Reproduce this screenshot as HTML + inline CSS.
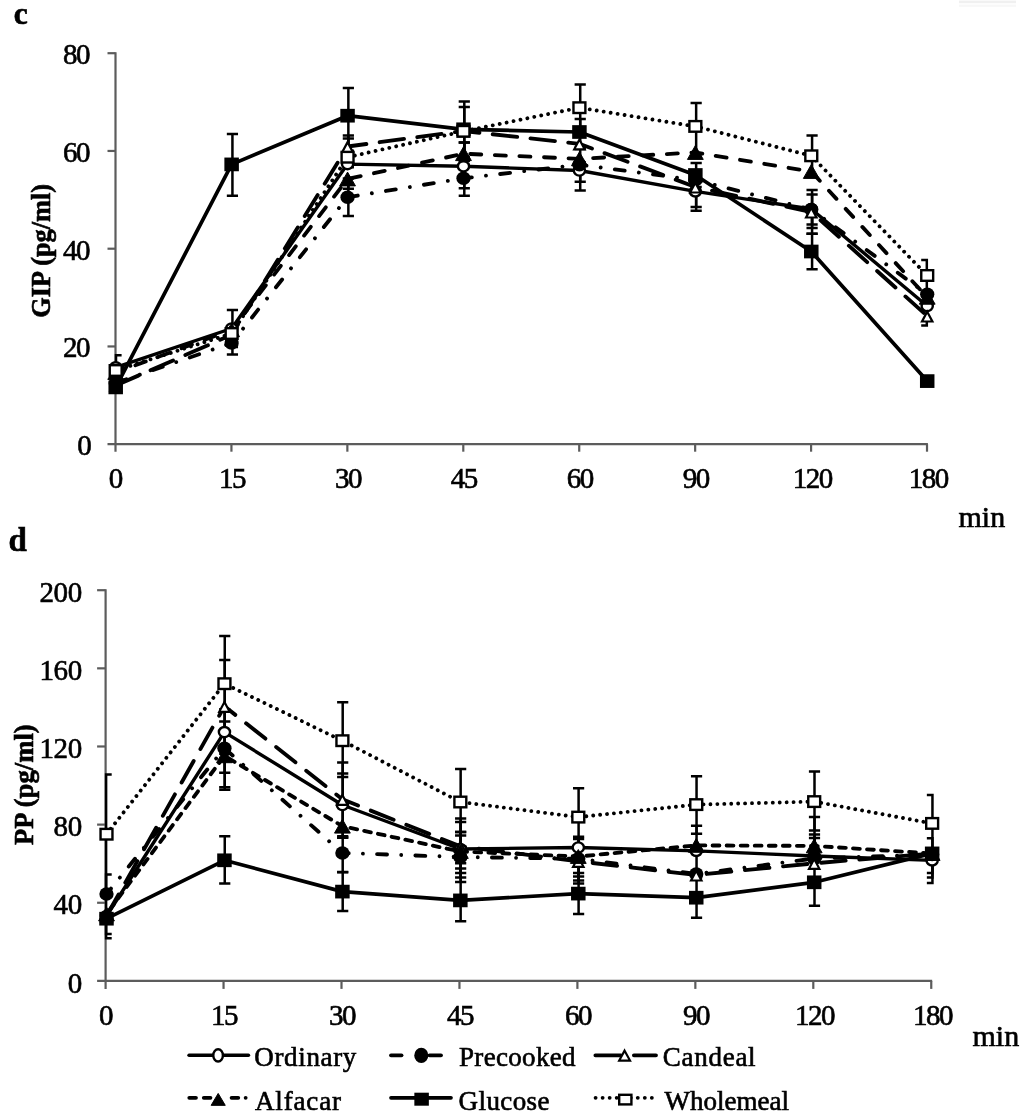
<!DOCTYPE html>
<html lang="en"><head><meta charset="utf-8"><title>GIP and PP responses</title>
<style>html,body{margin:0;padding:0;background:#fff}body{width:1024px;height:1120px;overflow:hidden}svg{display:block;filter:blur(0.45px)}text{font-family:"Liberation Serif",serif;fill:#000;stroke:#000;stroke-width:0.62px}</style></head><body>
<svg width="1024" height="1120" viewBox="0 0 1024 1120" role="img" aria-label="GIP and PP responses over time for six test meals">
<rect width="1024" height="1120" fill="#fff"/>
<rect x="959" y="0.6" width="57" height="2.6" fill="#f0f0f0"/><rect x="959" y="4.6" width="57" height="2.2" fill="#f7f7f7"/>
<g stroke="#5c5c5c" stroke-width="2.2" fill="none">
<path d="M115.5 52.30V451.7"/>
<path d="M107.5 444.2H927.91"/>
<path d="M107.5 346.45H115.5"/>
<path d="M107.5 248.70H115.5"/>
<path d="M107.5 150.95H115.5"/>
<path d="M107.5 53.20H115.5"/>
<path d="M231.43 444.2V451.7"/>
<path d="M347.36 444.2V451.7"/>
<path d="M463.29 444.2V451.7"/>
<path d="M579.22 444.2V451.7"/>
<path d="M695.15 444.2V451.7"/>
<path d="M811.08 444.2V451.7"/>
<path d="M927.01 444.2V451.7"/>
</g>
<text x="77.20" y="455.1" font-size="29">0</text>
<text x="63.10 76.10" y="357.3" font-size="29">20</text>
<text x="63.10 76.10" y="259.6" font-size="29">40</text>
<text x="63.10 76.10" y="161.8" font-size="29">60</text>
<text x="63.10 76.10" y="64.1" font-size="29">80</text>
<text x="108.85" y="487.9" font-size="29">0</text>
<text x="218.98 231.98" y="487.9" font-size="29">15</text>
<text x="334.91 347.91" y="487.9" font-size="29">30</text>
<text x="450.84 463.84" y="487.9" font-size="29">45</text>
<text x="566.77 579.77" y="487.9" font-size="29">60</text>
<text x="682.70 695.70" y="487.9" font-size="29">90</text>
<text x="792.83 805.83 818.83" y="487.9" font-size="29">120</text>
<text x="908.76 921.76 934.76" y="487.9" font-size="29">180</text>
<text x="958.5" y="526.5" font-size="30" text-anchor="start">min</text>
<text x="13.8" y="23.5" font-size="31.5" text-anchor="start" font-weight="bold">c</text>
<text x="50" y="250.8" font-size="26.3" text-anchor="middle" font-weight="bold" transform="rotate(-90 50 250.8)">GIP (pg/ml)</text>
<polyline points="115.70,367.30 231.63,328.50 347.56,164.10 463.49,166.30 579.42,170.50 695.35,191.40 811.28,209.00 927.21,306.00" fill="none" stroke="#000" stroke-width="3.4" stroke-linecap="round" stroke-linejoin="round"/>
<polyline points="115.70,383.00 231.63,343.00 347.56,197.20 463.49,178.30 579.42,164.70 695.35,180.00 811.28,209.50 927.21,294.30" fill="none" stroke="#000" stroke-width="3.85" stroke-linecap="round" stroke-linejoin="round" stroke-dasharray="9.95 14.27 0.01 14.27" stroke-dashoffset="-1.3"/>
<polyline points="115.70,385.50 231.63,334.80 347.56,146.50 463.49,131.00 579.42,143.80 695.35,187.00 811.28,212.00 927.21,316.00" fill="none" stroke="#000" stroke-width="3.85" stroke-linecap="round" stroke-linejoin="round" stroke-dasharray="24.65 13.35"/>
<polyline points="115.70,372.50 231.63,329.80 347.56,179.00 463.49,153.70 579.42,158.80 695.35,152.50 811.28,171.50 927.21,297.30" fill="none" stroke="#000" stroke-width="3.85" stroke-linecap="round" stroke-linejoin="round" stroke-dasharray="11 13.6" stroke-dashoffset="3.6"/>
<polyline points="115.70,387.40 231.63,164.40 347.56,115.70 463.49,129.30 579.42,132.00 695.35,175.00 811.28,251.50 927.21,381.10" fill="none" stroke="#000" stroke-width="3.7" stroke-linecap="round" stroke-linejoin="round"/>
<polyline points="115.70,370.50 231.63,333.50 347.56,157.20 463.49,131.30 579.42,107.70 695.35,126.40 811.28,155.80 927.21,275.50" fill="none" stroke="#000" stroke-width="3.85" stroke-linecap="round" stroke-linejoin="round" stroke-dasharray="0.01 7.05" stroke-dashoffset="-1.3"/>
<path d="M116.00 355.20V379.40M114.75 355.20H121.60M114.75 379.40H121.60" fill="none" stroke="#000" stroke-width="2.5"/>
<path d="M232.43 310.00V347.00M226.83 310.00H238.03M226.83 347.00H238.03" fill="none" stroke="#000" stroke-width="2.5"/>
<path d="M464.29 142.60V188.30M458.69 142.60H469.89M458.69 188.30H469.89" fill="none" stroke="#000" stroke-width="2.5"/>
<path d="M580.22 162.50V190.50M574.62 162.50H585.82M574.62 190.50H585.82" fill="none" stroke="#000" stroke-width="2.5"/>
<path d="M696.15 172.10V210.70M690.55 172.10H701.75M690.55 210.70H701.75" fill="none" stroke="#000" stroke-width="2.5"/>
<path d="M812.08 190.00V228.00M806.48 190.00H817.68M806.48 228.00H817.68" fill="none" stroke="#000" stroke-width="2.5"/>
<path d="M232.43 331.50V354.50M226.83 331.50H238.03M226.83 354.50H238.03" fill="none" stroke="#000" stroke-width="2.5"/>
<path d="M348.36 178.40V216.00M342.76 178.40H353.96M342.76 216.00H353.96" fill="none" stroke="#000" stroke-width="2.5"/>
<path d="M464.29 160.90V195.70M458.69 160.90H469.89M458.69 195.70H469.89" fill="none" stroke="#000" stroke-width="2.5"/>
<path d="M580.22 147.60V181.80M574.62 147.60H585.82M574.62 181.80H585.82" fill="none" stroke="#000" stroke-width="2.5"/>
<path d="M812.08 194.50V224.50M806.48 194.50H817.68M806.48 224.50H817.68" fill="none" stroke="#000" stroke-width="2.5"/>
<path d="M348.36 135.50V157.50M342.76 135.50H353.96M342.76 157.50H353.96" fill="none" stroke="#000" stroke-width="2.5"/>
<path d="M464.29 101.40V160.60M458.69 101.40H469.89M458.69 160.60H469.89" fill="none" stroke="#000" stroke-width="2.5"/>
<path d="M696.15 172.00V207.00M690.55 172.00H701.75M690.55 207.00H701.75" fill="none" stroke="#000" stroke-width="2.5"/>
<path d="M812.08 212.00V233.80M806.48 233.80H817.68" fill="none" stroke="#000" stroke-width="2.5"/>
<path d="M926.81 310.00V325.60M921.21 310.00H928.06M921.21 325.60H928.06" fill="none" stroke="#000" stroke-width="2.5"/>
<path d="M348.36 179.00V188.80M342.76 188.80H353.96" fill="none" stroke="#000" stroke-width="2.5"/>
<path d="M464.29 142.60V164.80M458.69 142.60H469.89M458.69 164.80H469.89" fill="none" stroke="#000" stroke-width="2.5"/>
<path d="M232.43 133.90V195.70M226.83 133.90H238.03M226.83 195.70H238.03" fill="none" stroke="#000" stroke-width="2.5"/>
<path d="M348.36 88.10V150.70M342.76 88.10H353.96M342.76 150.70H353.96" fill="none" stroke="#000" stroke-width="2.5"/>
<path d="M580.22 118.90V149.00M574.62 118.90H585.82M574.62 149.00H585.82" fill="none" stroke="#000" stroke-width="2.5"/>
<path d="M696.15 162.90V187.10M690.55 162.90H701.75M690.55 187.10H701.75" fill="none" stroke="#000" stroke-width="2.5"/>
<path d="M812.08 233.80V269.20M806.48 233.80H817.68M806.48 269.20H817.68" fill="none" stroke="#000" stroke-width="2.5"/>
<path d="M348.36 138.40V167.20M342.76 138.40H353.96M342.76 167.20H353.96" fill="none" stroke="#000" stroke-width="2.5"/>
<path d="M464.29 107.00V157.30M458.69 107.00H469.89M458.69 157.30H469.89" fill="none" stroke="#000" stroke-width="2.5"/>
<path d="M580.22 84.60V130.80M574.62 84.60H585.82M574.62 130.80H585.82" fill="none" stroke="#000" stroke-width="2.5"/>
<path d="M696.15 102.90V156.40M690.55 102.90H701.75M690.55 156.40H701.75" fill="none" stroke="#000" stroke-width="2.5"/>
<path d="M812.08 135.40V176.20M806.48 135.40H817.68M806.48 176.20H817.68" fill="none" stroke="#000" stroke-width="2.5"/>
<path d="M926.81 260.10V290.90M921.21 260.10H928.06M921.21 290.90H928.06" fill="none" stroke="#000" stroke-width="2.5"/>
<ellipse cx="115.70" cy="367.30" rx="5.60" ry="5.10" fill="#fff" stroke="#000" stroke-width="2.4"/>
<ellipse cx="231.63" cy="328.50" rx="5.60" ry="5.10" fill="#fff" stroke="#000" stroke-width="2.4"/>
<ellipse cx="347.56" cy="164.10" rx="5.60" ry="5.10" fill="#fff" stroke="#000" stroke-width="2.4"/>
<ellipse cx="463.49" cy="166.30" rx="5.60" ry="5.10" fill="#fff" stroke="#000" stroke-width="2.4"/>
<ellipse cx="579.42" cy="170.50" rx="5.60" ry="5.10" fill="#fff" stroke="#000" stroke-width="2.4"/>
<ellipse cx="695.35" cy="191.40" rx="5.60" ry="5.10" fill="#fff" stroke="#000" stroke-width="2.4"/>
<ellipse cx="811.28" cy="209.00" rx="5.60" ry="5.10" fill="#fff" stroke="#000" stroke-width="2.4"/>
<ellipse cx="927.21" cy="306.00" rx="5.60" ry="5.10" fill="#fff" stroke="#000" stroke-width="2.4"/>
<ellipse cx="115.70" cy="383.00" rx="7.15" ry="6.75" fill="#000"/>
<ellipse cx="231.63" cy="343.00" rx="7.15" ry="6.75" fill="#000"/>
<ellipse cx="347.56" cy="197.20" rx="7.15" ry="6.75" fill="#000"/>
<ellipse cx="463.49" cy="178.30" rx="7.15" ry="6.75" fill="#000"/>
<ellipse cx="579.42" cy="164.70" rx="7.15" ry="6.75" fill="#000"/>
<ellipse cx="695.35" cy="180.00" rx="7.15" ry="6.75" fill="#000"/>
<ellipse cx="811.28" cy="209.50" rx="7.15" ry="6.75" fill="#000"/>
<ellipse cx="927.21" cy="294.30" rx="7.15" ry="6.75" fill="#000"/>
<polygon points="115.70,381.21 120.91,391.00 110.49,391.00" fill="#fff" stroke="#000" stroke-width="2.2" stroke-linejoin="miter"/>
<polygon points="231.63,330.51 236.84,340.30 226.42,340.30" fill="#fff" stroke="#000" stroke-width="2.2" stroke-linejoin="miter"/>
<polygon points="347.56,142.21 352.77,152.00 342.35,152.00" fill="#fff" stroke="#000" stroke-width="2.2" stroke-linejoin="miter"/>
<polygon points="463.49,126.71 468.70,136.50 458.28,136.50" fill="#fff" stroke="#000" stroke-width="2.2" stroke-linejoin="miter"/>
<polygon points="579.42,139.51 584.63,149.30 574.21,149.30" fill="#fff" stroke="#000" stroke-width="2.2" stroke-linejoin="miter"/>
<polygon points="695.35,182.71 700.56,192.50 690.14,192.50" fill="#fff" stroke="#000" stroke-width="2.2" stroke-linejoin="miter"/>
<polygon points="811.28,207.71 816.49,217.50 806.07,217.50" fill="#fff" stroke="#000" stroke-width="2.2" stroke-linejoin="miter"/>
<polygon points="927.21,311.71 932.42,321.50 922.00,321.50" fill="#fff" stroke="#000" stroke-width="2.2" stroke-linejoin="miter"/>
<polygon points="115.70,365.60 123.60,379.40 107.80,379.40" fill="#000" stroke="#000" stroke-width="1" stroke-linejoin="miter"/>
<polygon points="231.63,322.90 239.53,336.70 223.73,336.70" fill="#000" stroke="#000" stroke-width="1" stroke-linejoin="miter"/>
<polygon points="347.56,172.10 355.46,185.90 339.66,185.90" fill="#000" stroke="#000" stroke-width="1" stroke-linejoin="miter"/>
<polygon points="463.49,146.80 471.39,160.60 455.59,160.60" fill="#000" stroke="#000" stroke-width="1" stroke-linejoin="miter"/>
<polygon points="579.42,151.90 587.32,165.70 571.52,165.70" fill="#000" stroke="#000" stroke-width="1" stroke-linejoin="miter"/>
<polygon points="695.35,145.60 703.25,159.40 687.45,159.40" fill="#000" stroke="#000" stroke-width="1" stroke-linejoin="miter"/>
<polygon points="811.28,164.60 819.18,178.40 803.38,178.40" fill="#000" stroke="#000" stroke-width="1" stroke-linejoin="miter"/>
<polygon points="927.21,290.40 935.11,304.20 919.31,304.20" fill="#000" stroke="#000" stroke-width="1" stroke-linejoin="miter"/>
<rect x="108.45" y="380.55" width="14.5" height="13.7" fill="#000"/>
<rect x="224.38" y="157.55" width="14.5" height="13.7" fill="#000"/>
<rect x="340.31" y="108.85" width="14.5" height="13.7" fill="#000"/>
<rect x="456.24" y="122.45" width="14.5" height="13.7" fill="#000"/>
<rect x="572.17" y="125.15" width="14.5" height="13.7" fill="#000"/>
<rect x="688.10" y="168.15" width="14.5" height="13.7" fill="#000"/>
<rect x="804.03" y="244.65" width="14.5" height="13.7" fill="#000"/>
<rect x="919.96" y="374.25" width="14.5" height="13.7" fill="#000"/>
<rect x="109.75" y="365.20" width="11.90" height="10.60" fill="#fff" stroke="#000" stroke-width="2.4"/>
<rect x="225.68" y="328.20" width="11.90" height="10.60" fill="#fff" stroke="#000" stroke-width="2.4"/>
<rect x="341.61" y="151.90" width="11.90" height="10.60" fill="#fff" stroke="#000" stroke-width="2.4"/>
<rect x="457.54" y="126.00" width="11.90" height="10.60" fill="#fff" stroke="#000" stroke-width="2.4"/>
<rect x="573.47" y="102.40" width="11.90" height="10.60" fill="#fff" stroke="#000" stroke-width="2.4"/>
<rect x="689.40" y="121.10" width="11.90" height="10.60" fill="#fff" stroke="#000" stroke-width="2.4"/>
<rect x="805.33" y="150.50" width="11.90" height="10.60" fill="#fff" stroke="#000" stroke-width="2.4"/>
<rect x="921.26" y="270.20" width="11.90" height="10.60" fill="#fff" stroke="#000" stroke-width="2.4"/>
<g stroke="#5c5c5c" stroke-width="2.2" fill="none">
<path d="M105.6 589.30V988.9"/>
<path d="M97.1 980.9H932.15"/>
<path d="M97.1 902.76H105.6"/>
<path d="M97.1 824.62H105.6"/>
<path d="M97.1 746.48H105.6"/>
<path d="M97.1 668.34H105.6"/>
<path d="M97.1 590.20H105.6"/>
<path d="M223.55 980.9V988.9"/>
<path d="M341.50 980.9V988.9"/>
<path d="M459.45 980.9V988.9"/>
<path d="M577.40 980.9V988.9"/>
<path d="M695.35 980.9V988.9"/>
<path d="M813.30 980.9V988.9"/>
<path d="M931.25 980.9V988.9"/>
</g>
<text x="67.80" y="992.5" font-size="29">0</text>
<text x="53.60 67.80" y="914.4" font-size="29">40</text>
<text x="53.60 67.80" y="836.2" font-size="29">80</text>
<text x="39.40 53.60 67.80" y="758.1" font-size="29">120</text>
<text x="39.40 53.60 67.80" y="679.9" font-size="29">160</text>
<text x="39.40 53.60 67.80" y="601.8" font-size="29">200</text>
<text x="98.95" y="1025.0" font-size="29">0</text>
<text x="211.10 224.10" y="1025.0" font-size="29">15</text>
<text x="329.05 342.05" y="1025.0" font-size="29">30</text>
<text x="447.00 460.00" y="1025.0" font-size="29">45</text>
<text x="564.95 577.95" y="1025.0" font-size="29">60</text>
<text x="682.90 695.90" y="1025.0" font-size="29">90</text>
<text x="795.05 808.05 821.05" y="1025.0" font-size="29">120</text>
<text x="913.00 926.00 939.00" y="1025.0" font-size="29">180</text>
<text x="972.5" y="1046" font-size="30" text-anchor="start">min</text>
<text x="8.6" y="551.3" font-size="33" text-anchor="start" font-weight="bold">d</text>
<text x="33" y="784.7" font-size="26.7" text-anchor="middle" font-weight="bold" transform="rotate(-90 33 784.7)">PP (pg/ml)</text>
<polyline points="106.50,916.00 224.45,732.10 342.40,805.00 460.35,849.00 578.30,847.50 696.25,850.90 814.20,856.00 932.15,860.40" fill="none" stroke="#000" stroke-width="3.4" stroke-linecap="round" stroke-linejoin="round"/>
<polyline points="106.50,894.10 224.45,748.20 342.40,853.00 460.35,857.00 578.30,858.70 696.25,874.00 814.20,858.50 932.15,854.50" fill="none" stroke="#000" stroke-width="3.85" stroke-linecap="round" stroke-linejoin="round" stroke-dasharray="9.95 14.17 0.01 14.17" stroke-dashoffset="2.9"/>
<polyline points="106.50,916.00 224.45,706.30 342.40,799.30 460.35,846.30 578.30,861.30 696.25,875.00 814.20,863.30 932.15,853.50" fill="none" stroke="#000" stroke-width="3.85" stroke-linecap="round" stroke-linejoin="round" stroke-dasharray="24.65 13.65"/>
<polyline points="106.50,914.00 224.45,755.80 342.40,826.20 460.35,851.50 578.30,856.50 696.25,845.40 814.20,845.90 932.15,853.50" fill="none" stroke="#000" stroke-width="3.85" stroke-linecap="round" stroke-linejoin="round" stroke-dasharray="6.8 7.25" stroke-dashoffset="-5.7"/>
<polyline points="106.50,918.70 224.45,860.30 342.40,891.60 460.35,900.40 578.30,893.60 696.25,897.70 814.20,882.30 932.15,853.40" fill="none" stroke="#000" stroke-width="3.7" stroke-linecap="round" stroke-linejoin="round"/>
<polyline points="106.50,834.20 224.45,683.70 342.40,740.70 460.35,802.00 578.30,817.10 696.25,804.60 814.20,801.60 932.15,823.40" fill="none" stroke="#000" stroke-width="3.85" stroke-linecap="round" stroke-linejoin="round" stroke-dasharray="0.01 6.92"/>
<path d="M106.10 916.00V934.00M104.85 934.00H111.70" fill="none" stroke="#000" stroke-width="2.5"/>
<path d="M224.75 732.10V772.80M219.15 772.80H230.35" fill="none" stroke="#000" stroke-width="2.5"/>
<path d="M342.70 773.40V837.80M337.10 773.40H348.30M337.10 837.80H348.30" fill="none" stroke="#000" stroke-width="2.5"/>
<path d="M460.65 822.10V877.50M455.05 822.10H466.25M455.05 877.50H466.25" fill="none" stroke="#000" stroke-width="2.5"/>
<path d="M578.60 836.70V847.50M573.00 836.70H584.20" fill="none" stroke="#000" stroke-width="2.5"/>
<path d="M696.55 825.70V874.90M690.95 825.70H702.15M690.95 874.90H702.15" fill="none" stroke="#000" stroke-width="2.5"/>
<path d="M814.50 834.40V856.00M808.90 834.40H820.10" fill="none" stroke="#000" stroke-width="2.5"/>
<path d="M932.45 860.40V873.00M926.85 873.00H933.70" fill="none" stroke="#000" stroke-width="2.5"/>
<path d="M106.10 874.60V913.60M104.85 874.60H111.70M104.85 913.60H111.70" fill="none" stroke="#000" stroke-width="2.5"/>
<path d="M224.75 709.20V787.20M219.15 709.20H230.35M219.15 787.20H230.35" fill="none" stroke="#000" stroke-width="2.5"/>
<path d="M342.70 836.20V872.00M337.10 836.20H348.30M337.10 872.00H348.30" fill="none" stroke="#000" stroke-width="2.5"/>
<path d="M460.65 832.00V882.00M455.05 832.00H466.25M455.05 882.00H466.25" fill="none" stroke="#000" stroke-width="2.5"/>
<path d="M578.60 858.70V880.40M573.00 880.40H584.20" fill="none" stroke="#000" stroke-width="2.5"/>
<path d="M932.45 854.50V877.50M926.85 877.50H933.70" fill="none" stroke="#000" stroke-width="2.5"/>
<path d="M224.75 659.90V753.80M219.15 659.90H230.35M219.15 753.80H230.35" fill="none" stroke="#000" stroke-width="2.5"/>
<path d="M342.70 762.60V837.50M337.10 762.60H348.30M337.10 837.50H348.30" fill="none" stroke="#000" stroke-width="2.5"/>
<path d="M460.65 818.60V873.00M455.05 818.60H466.25M455.05 873.00H466.25" fill="none" stroke="#000" stroke-width="2.5"/>
<path d="M578.60 861.30V883.60M573.00 883.60H584.20" fill="none" stroke="#000" stroke-width="2.5"/>
<path d="M814.50 837.90V863.30M808.90 837.90H820.10" fill="none" stroke="#000" stroke-width="2.5"/>
<path d="M932.45 853.50V882.90M926.85 882.90H933.70" fill="none" stroke="#000" stroke-width="2.5"/>
<path d="M224.75 721.40V789.80M219.15 721.40H230.35M219.15 789.80H230.35" fill="none" stroke="#000" stroke-width="2.5"/>
<path d="M460.65 832.00V863.20M455.05 832.00H466.25M455.05 863.20H466.25" fill="none" stroke="#000" stroke-width="2.5"/>
<path d="M578.60 839.00V876.60M573.00 839.00H584.20M573.00 876.60H584.20" fill="none" stroke="#000" stroke-width="2.5"/>
<path d="M814.50 817.00V845.90M808.90 817.00H820.10" fill="none" stroke="#000" stroke-width="2.5"/>
<path d="M106.10 918.70V938.30M104.85 938.30H111.70" fill="none" stroke="#000" stroke-width="2.5"/>
<path d="M224.75 836.20V883.50M219.15 836.20H230.35M219.15 883.50H230.35" fill="none" stroke="#000" stroke-width="2.5"/>
<path d="M342.70 872.20V911.00M337.10 872.20H348.30M337.10 911.00H348.30" fill="none" stroke="#000" stroke-width="2.5"/>
<path d="M460.65 868.60V921.30M455.05 868.60H466.25M455.05 921.30H466.25" fill="none" stroke="#000" stroke-width="2.5"/>
<path d="M578.60 873.10V914.10M573.00 873.10H584.20M573.00 914.10H584.20" fill="none" stroke="#000" stroke-width="2.5"/>
<path d="M696.55 877.70V917.70M690.95 877.70H702.15M690.95 917.70H702.15" fill="none" stroke="#000" stroke-width="2.5"/>
<path d="M814.50 858.90V905.70M808.90 858.90H820.10M808.90 905.70H820.10" fill="none" stroke="#000" stroke-width="2.5"/>
<path d="M932.45 838.20V853.40M926.85 838.20H933.70" fill="none" stroke="#000" stroke-width="2.5"/>
<path d="M106.10 774.40V894.00M104.85 774.40H111.70M104.85 894.00H111.70" fill="none" stroke="#000" stroke-width="2.5"/>
<path d="M224.75 636.10V731.30M219.15 636.10H230.35M219.15 731.30H230.35" fill="none" stroke="#000" stroke-width="2.5"/>
<path d="M342.70 702.30V777.10M337.10 702.30H348.30M337.10 777.10H348.30" fill="none" stroke="#000" stroke-width="2.5"/>
<path d="M460.65 768.90V835.50M455.05 768.90H466.25M455.05 835.50H466.25" fill="none" stroke="#000" stroke-width="2.5"/>
<path d="M578.60 788.20V846.00M573.00 788.20H584.20M573.00 846.00H584.20" fill="none" stroke="#000" stroke-width="2.5"/>
<path d="M696.55 776.30V833.80M690.95 776.30H702.15M690.95 833.80H702.15" fill="none" stroke="#000" stroke-width="2.5"/>
<path d="M814.50 771.60V830.60M808.90 771.60H820.10M808.90 830.60H820.10" fill="none" stroke="#000" stroke-width="2.5"/>
<path d="M932.45 795.00V851.80M926.85 795.00H933.70M926.85 851.80H933.70" fill="none" stroke="#000" stroke-width="2.5"/>
<ellipse cx="106.50" cy="916.00" rx="5.60" ry="5.10" fill="#fff" stroke="#000" stroke-width="2.4"/>
<ellipse cx="224.45" cy="732.10" rx="5.60" ry="5.10" fill="#fff" stroke="#000" stroke-width="2.4"/>
<ellipse cx="342.40" cy="805.00" rx="5.60" ry="5.10" fill="#fff" stroke="#000" stroke-width="2.4"/>
<ellipse cx="460.35" cy="849.00" rx="5.60" ry="5.10" fill="#fff" stroke="#000" stroke-width="2.4"/>
<ellipse cx="578.30" cy="847.50" rx="5.60" ry="5.10" fill="#fff" stroke="#000" stroke-width="2.4"/>
<ellipse cx="696.25" cy="850.90" rx="5.60" ry="5.10" fill="#fff" stroke="#000" stroke-width="2.4"/>
<ellipse cx="814.20" cy="856.00" rx="5.60" ry="5.10" fill="#fff" stroke="#000" stroke-width="2.4"/>
<ellipse cx="932.15" cy="860.40" rx="5.60" ry="5.10" fill="#fff" stroke="#000" stroke-width="2.4"/>
<ellipse cx="106.50" cy="894.10" rx="7.15" ry="6.75" fill="#000"/>
<ellipse cx="224.45" cy="748.20" rx="7.15" ry="6.75" fill="#000"/>
<ellipse cx="342.40" cy="853.00" rx="7.15" ry="6.75" fill="#000"/>
<ellipse cx="460.35" cy="857.00" rx="7.15" ry="6.75" fill="#000"/>
<ellipse cx="578.30" cy="858.70" rx="7.15" ry="6.75" fill="#000"/>
<ellipse cx="696.25" cy="874.00" rx="7.15" ry="6.75" fill="#000"/>
<ellipse cx="814.20" cy="858.50" rx="7.15" ry="6.75" fill="#000"/>
<ellipse cx="932.15" cy="854.50" rx="7.15" ry="6.75" fill="#000"/>
<polygon points="106.50,911.71 111.71,921.50 101.29,921.50" fill="#fff" stroke="#000" stroke-width="2.2" stroke-linejoin="miter"/>
<polygon points="224.45,702.01 229.66,711.80 219.24,711.80" fill="#fff" stroke="#000" stroke-width="2.2" stroke-linejoin="miter"/>
<polygon points="342.40,795.01 347.61,804.80 337.19,804.80" fill="#fff" stroke="#000" stroke-width="2.2" stroke-linejoin="miter"/>
<polygon points="460.35,842.01 465.56,851.80 455.14,851.80" fill="#fff" stroke="#000" stroke-width="2.2" stroke-linejoin="miter"/>
<polygon points="578.30,857.01 583.51,866.80 573.09,866.80" fill="#fff" stroke="#000" stroke-width="2.2" stroke-linejoin="miter"/>
<polygon points="696.25,870.71 701.46,880.50 691.04,880.50" fill="#fff" stroke="#000" stroke-width="2.2" stroke-linejoin="miter"/>
<polygon points="814.20,859.01 819.41,868.80 808.99,868.80" fill="#fff" stroke="#000" stroke-width="2.2" stroke-linejoin="miter"/>
<polygon points="932.15,849.21 937.36,859.00 926.94,859.00" fill="#fff" stroke="#000" stroke-width="2.2" stroke-linejoin="miter"/>
<polygon points="106.50,907.10 114.40,920.90 98.60,920.90" fill="#000" stroke="#000" stroke-width="1" stroke-linejoin="miter"/>
<polygon points="224.45,748.90 232.35,762.70 216.55,762.70" fill="#000" stroke="#000" stroke-width="1" stroke-linejoin="miter"/>
<polygon points="342.40,819.30 350.30,833.10 334.50,833.10" fill="#000" stroke="#000" stroke-width="1" stroke-linejoin="miter"/>
<polygon points="460.35,844.60 468.25,858.40 452.45,858.40" fill="#000" stroke="#000" stroke-width="1" stroke-linejoin="miter"/>
<polygon points="578.30,849.60 586.20,863.40 570.40,863.40" fill="#000" stroke="#000" stroke-width="1" stroke-linejoin="miter"/>
<polygon points="696.25,838.50 704.15,852.30 688.35,852.30" fill="#000" stroke="#000" stroke-width="1" stroke-linejoin="miter"/>
<polygon points="814.20,839.00 822.10,852.80 806.30,852.80" fill="#000" stroke="#000" stroke-width="1" stroke-linejoin="miter"/>
<polygon points="932.15,846.60 940.05,860.40 924.25,860.40" fill="#000" stroke="#000" stroke-width="1" stroke-linejoin="miter"/>
<rect x="99.25" y="911.85" width="14.5" height="13.7" fill="#000"/>
<rect x="217.20" y="853.45" width="14.5" height="13.7" fill="#000"/>
<rect x="335.15" y="884.75" width="14.5" height="13.7" fill="#000"/>
<rect x="453.10" y="893.55" width="14.5" height="13.7" fill="#000"/>
<rect x="571.05" y="886.75" width="14.5" height="13.7" fill="#000"/>
<rect x="689.00" y="890.85" width="14.5" height="13.7" fill="#000"/>
<rect x="806.95" y="875.45" width="14.5" height="13.7" fill="#000"/>
<rect x="924.90" y="846.55" width="14.5" height="13.7" fill="#000"/>
<rect x="100.55" y="828.90" width="11.90" height="10.60" fill="#fff" stroke="#000" stroke-width="2.4"/>
<rect x="218.50" y="678.40" width="11.90" height="10.60" fill="#fff" stroke="#000" stroke-width="2.4"/>
<rect x="336.45" y="735.40" width="11.90" height="10.60" fill="#fff" stroke="#000" stroke-width="2.4"/>
<rect x="454.40" y="796.70" width="11.90" height="10.60" fill="#fff" stroke="#000" stroke-width="2.4"/>
<rect x="572.35" y="811.80" width="11.90" height="10.60" fill="#fff" stroke="#000" stroke-width="2.4"/>
<rect x="690.30" y="799.30" width="11.90" height="10.60" fill="#fff" stroke="#000" stroke-width="2.4"/>
<rect x="808.25" y="796.30" width="11.90" height="10.60" fill="#fff" stroke="#000" stroke-width="2.4"/>
<rect x="926.20" y="818.10" width="11.90" height="10.60" fill="#fff" stroke="#000" stroke-width="2.4"/>
<polyline points="189.00,1055.30 248.50,1055.30" fill="none" stroke="#000" stroke-width="3.4" stroke-linecap="round" stroke-linejoin="round"/>
<ellipse cx="218.10" cy="1055.40" rx="4.80" ry="6.10" fill="#fff" stroke="#000" stroke-width="2.4"/>
<text x="254.3" y="1066.4" font-size="27" text-anchor="start" textLength="102" lengthAdjust="spacing">Ordinary</text>
<polyline points="189.30,1097.80 212.00,1097.80" fill="none" stroke="#000" stroke-width="3.85" stroke-linecap="round" stroke-linejoin="round" stroke-dasharray="6.65 7.85"/>
<polyline points="231.60,1097.80 248.00,1097.80" fill="none" stroke="#000" stroke-width="3.85" stroke-linecap="round" stroke-linejoin="round" stroke-dasharray="6.65 7.4 0.01 20"/>
<polygon points="218.20,1093.45 225.25,1105.35 211.15,1105.35" fill="#000" stroke="#000" stroke-width="1" stroke-linejoin="miter"/>
<text x="255" y="1109.9" font-size="27" text-anchor="start" textLength="86" lengthAdjust="spacing">Alfacar</text>
<polyline points="391.00,1055.30 401.50,1055.30" fill="none" stroke="#000" stroke-width="3.85" stroke-linecap="round" stroke-linejoin="round"/>
<polyline points="429.50,1055.30 441.00,1055.30" fill="none" stroke="#000" stroke-width="3.85" stroke-linecap="round" stroke-linejoin="round"/>
<ellipse cx="421.30" cy="1055.40" rx="7.05" ry="7.55" fill="#000"/>
<text x="459" y="1066.4" font-size="27" text-anchor="start" textLength="116.5" lengthAdjust="spacing">Precooked</text>
<polyline points="391.00,1097.80 451.00,1097.80" fill="none" stroke="#000" stroke-width="3.7" stroke-linecap="round" stroke-linejoin="round"/>
<rect x="414.35" y="1092.70" width="14.5" height="13.0" fill="#000"/>
<text x="458.6" y="1109.9" font-size="27" text-anchor="start" textLength="90.8" lengthAdjust="spacing">Glucose</text>
<polyline points="595.40,1055.30 656.00,1055.30" fill="none" stroke="#000" stroke-width="3.85" stroke-linecap="round" stroke-linejoin="round" stroke-dasharray="25.5 13"/>
<polygon points="624.60,1050.66 630.01,1060.55 619.19,1060.55" fill="#fff" stroke="#000" stroke-width="2.2" stroke-linejoin="miter"/>
<text x="662.8" y="1066.4" font-size="27" text-anchor="start" textLength="92.8" lengthAdjust="spacing">Candeal</text>
<polyline points="595.60,1097.80 652.00,1097.80" fill="none" stroke="#000" stroke-width="3.85" stroke-linecap="round" stroke-linejoin="round" stroke-dasharray="0.01 7.02"/>
<rect x="619.20" y="1094.80" width="12.20" height="9.60" fill="#fff" stroke="#000" stroke-width="2.4"/>
<text x="664.4" y="1109.9" font-size="27" text-anchor="start" textLength="124.5" lengthAdjust="spacing">Wholemeal</text>
</svg></body></html>
